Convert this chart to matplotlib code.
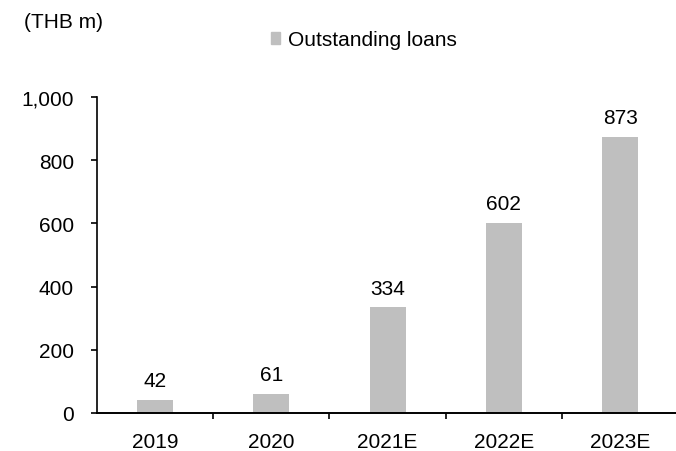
import matplotlib
matplotlib.use("Agg")
import matplotlib.pyplot as plt
from matplotlib.patches import Patch

years = ['2019', '2020', '2021E', '2022E', '2023E']
loans = [42, 61, 334, 602, 873]
yticks = [0, 200, 400, 600, 800, 1000]

plt.rcParams['font.family'] = ['Liberation Sans', 'DejaVu Sans']
fs = 15

fig = plt.figure(figsize=(6.76, 4.52), dpi=100)
# plot area runs slightly past the right edge, as in the source
ax = fig.add_axes([96.8 / 676, 38 / 452, 581.5 / 676, 316 / 452])

x = list(range(len(years)))
ax.bar(x, loans, width=0.31, color='#bfbfbf')
for xi, v in zip(x, loans):
    ax.annotate(f'{v:,}', (xi, v), xytext=(0, 7), textcoords='offset points',
                ha='center', va='bottom', fontsize=fs)

ax.set_xlim(-0.5, len(years) - 0.5)
ax.set_ylim(0, 1000)
ax.set_yticks(yticks)
ax.set_yticklabels([f'{t:,}' for t in yticks], fontsize=fs)

# category labels centred, tick marks on the boundaries
ax.set_xticks(x)
ax.set_xticklabels(years, fontsize=fs)
ax.tick_params(axis='x', length=0, pad=14)
ax.set_xticks([i + 0.5 for i in x[:-1]], minor=True)
ax.tick_params(axis='x', which='minor', length=4.5, width=1.2, direction='out')
ax.tick_params(axis='y', length=4.5, width=1.2, direction='out', pad=12)

for s in ['top', 'right']:
    ax.spines[s].set_visible(False)
ax.spines['left'].set_linewidth(1.2)
ax.spines['bottom'].set_linewidth(1.4)

fig.text(24 / 676, 1 - 23 / 452, '(THB m)', fontsize=fs, va='center', ha='left')
fig.legend(handles=[Patch(color='#bfbfbf', label='Outstanding loans')],
           loc='center left', bbox_to_anchor=(271 / 676, 1 - 41 / 452),
           frameon=False, fontsize=fs, handlelength=0.45, handleheight=0.45,
           handletextpad=0.35, borderaxespad=0, borderpad=0)

fig.savefig('out.png', dpi=100)
